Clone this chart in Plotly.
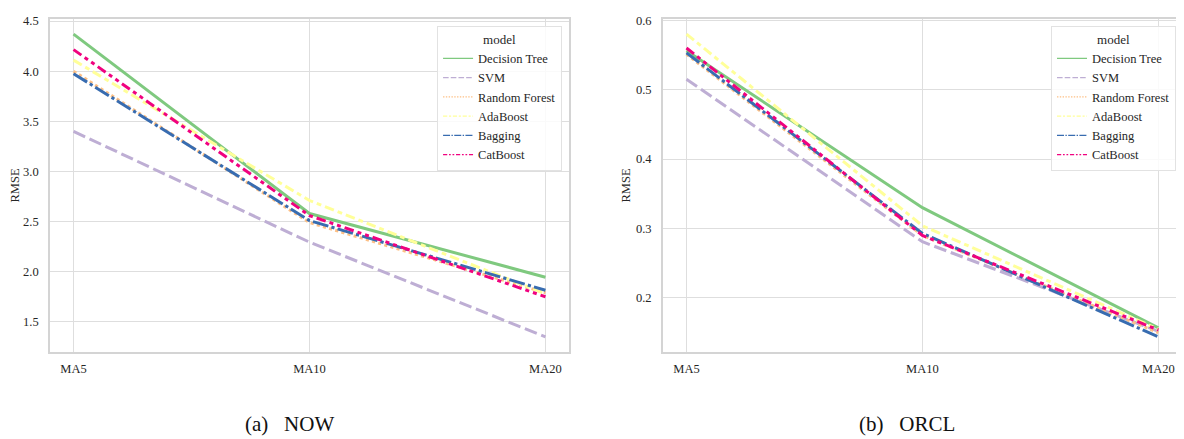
import plotly.graph_objects as go

# ---- data ----
models = ["Decision Tree", "SVM", "Random Forest", "AdaBoost", "Bagging", "CatBoost"]
windows = ["MA5", "MA10", "MA20"]

now_decision_tree = [4.37, 2.58, 1.945]
now_svm = [3.40, 2.295, 1.35]
now_random_forest = [4.00, 2.49, 1.79]
now_adaboost = [4.11, 2.71, 1.78]
now_bagging = [3.975, 2.51, 1.815]
now_catboost = [4.215, 2.56, 1.75]

orcl_decision_tree = [0.556, 0.330, 0.157]
orcl_svm = [0.515, 0.281, 0.152]
orcl_random_forest = [0.551, 0.290, 0.150]
orcl_adaboost = [0.580, 0.304, 0.155]
orcl_bagging = [0.553, 0.293, 0.144]
orcl_catboost = [0.560, 0.290, 0.154]

now_series = [now_decision_tree, now_svm, now_random_forest, now_adaboost, now_bagging, now_catboost]
orcl_series = [orcl_decision_tree, orcl_svm, orcl_random_forest, orcl_adaboost, orcl_bagging, orcl_catboost]

captions = ["(a)\u00a0\u00a0\u00a0NOW", "(b)\u00a0\u00a0\u00a0ORCL"]

# ---- style ----
colors = ["#7fc97f", "#beaed4", "#fdc086", "#ffff99", "#386cb0", "#f0027f"]
dash_units = [None, (4, 1.5), (1, 1), (3, 1.25, 1.5, 1.25), (5, 1, 1, 1),
              (3, 1.25, 1.25, 1.25, 1.25, 1.25)]


def dash_str(units, scale):
    if units is None:
        return "solid"
    return ",".join(f"{u * scale:.2f}px" for u in units)


OFF = 8  # page body margin
W, H = 1184 - OFF, 439 - OFF
FONT = "Liberation Serif"
TXT = "#262626"


def px_x(x):
    return (x - OFF) / W


def px_y(y):
    return 1 - (y - OFF) / H


fig = go.Figure()

panels = [(now_series, "x", "y", "legend"), (orcl_series, "x2", "y2", "legend2")]
for series, xa, ya, lg in panels:
    for name, vals, col, du in zip(models, series, colors, dash_units):
        fig.add_trace(go.Scatter(
            x=windows, y=vals, mode="lines", name=name, xaxis=xa, yaxis=ya,
            line=dict(color=col, width=3, dash=dash_str(du, 3.2)),
            showlegend=False, hoverinfo="x+y+name"))
    for name, col, du in zip(models, colors, dash_units):
        fig.add_trace(go.Scatter(
            x=[None], y=[None], mode="lines", name=name, xaxis=xa, yaxis=ya,
            line=dict(color=col, width=1.1, dash=dash_str(du, 1.4)),
            showlegend=True, legend=lg))


def yrange(series):
    lo = min(min(s) for s in series)
    hi = max(max(s) for s in series)
    pad = (hi - lo) * 0.05
    return [lo - pad, hi + pad]


y_top = px_y(14)
y_bot = px_y(351)

axis_common = dict(
    showgrid=True, gridcolor="#dedede", gridwidth=1,
    showline=True, linecolor="#d4d4d4", linewidth=1.6, mirror=True,
    zeroline=False, ticks="",
    tickfont=dict(family=FONT, size=12.5, color=TXT),
)

fig.update_layout(
    width=W, height=H,
    margin=dict(l=0, r=0, t=0, b=0),
    paper_bgcolor="white", plot_bgcolor="white",
    font=dict(family=FONT, size=12.5, color=TXT),
    xaxis=dict(domain=[px_x(50), px_x(570)], type="category", range=[-0.1, 2.1],
               anchor="y", ticklabelstandoff=4, **axis_common),
    yaxis=dict(domain=[y_bot, y_top], range=yrange(now_series), anchor="x",
               tickformat=".1f", dtick=0.5, tick0=1.5, ticklabelstandoff=7,
               title=dict(text="RMSE", standoff=3,
                          font=dict(family=FONT, size=12.5, color=TXT)),
               **axis_common),
    xaxis2=dict(domain=[px_x(664), 1.0], type="category", range=[-0.1, 2.1],
                anchor="y2", ticklabelstandoff=4, **axis_common),
    yaxis2=dict(domain=[y_bot, y_top], range=yrange(orcl_series), anchor="x2",
                tickformat=".1f", dtick=0.1, tick0=0.2, ticklabelstandoff=7,
                title=dict(text="RMSE", standoff=3,
                           font=dict(family=FONT, size=12.5, color=TXT)),
                **axis_common),
)

legend_common = dict(
    xanchor="right", yanchor="top", y=px_y(21),
    bgcolor="rgba(255,255,255,0.85)", bordercolor="#e2e2e2", borderwidth=1,
    font=dict(family=FONT, size=12.5, color=TXT),
    title=dict(text="model", side="top center",
               font=dict(family=FONT, size=13, color=TXT)),
    itemwidth=30, tracegroupgap=0,
)
fig.update_layout(
    legend=dict(x=px_x(563), **legend_common),
    legend2=dict(x=px_x(1178), **legend_common),
)

for cap, cx in zip(captions, [290, 909]):
    fig.add_annotation(
        text=cap, xref="paper", yref="paper", x=px_x(cx), y=px_y(424),
        xanchor="center", yanchor="middle", showarrow=False,
        font=dict(family=FONT, size=21, color="#111111"))

fig.write_html("out.html")
